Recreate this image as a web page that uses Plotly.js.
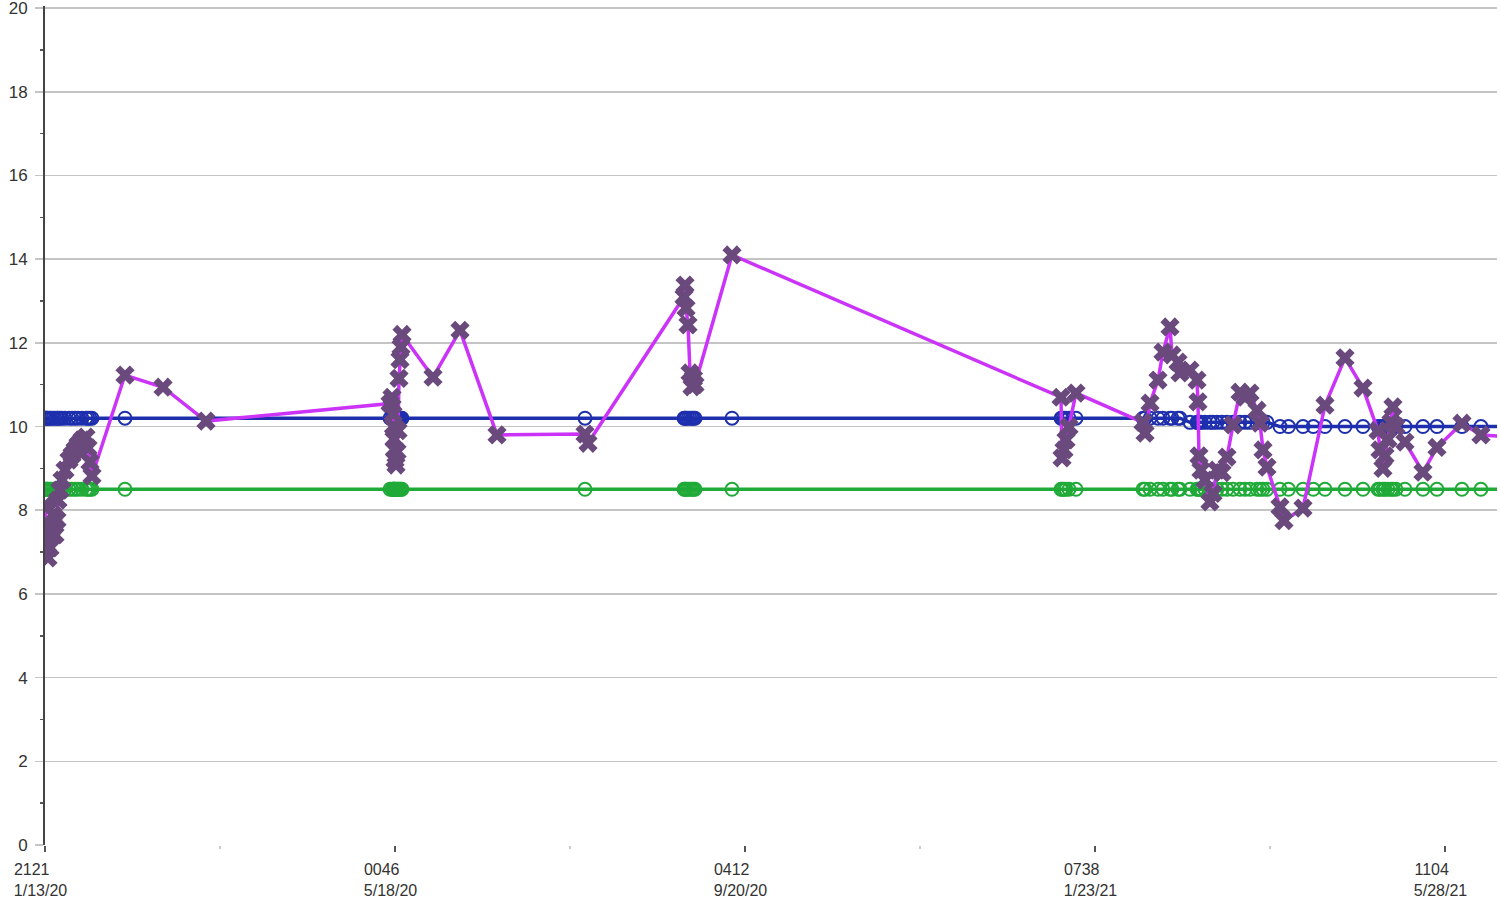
<!DOCTYPE html>
<html>
<head>
<meta charset="utf-8">
<script src="https://cdn.plot.ly/plotly-3.0.1.min.js"></script>
<style>
html,body{margin:0;padding:0;background:#fff;}
#chart{width:1500px;height:908px;}
</style>
</head>
<body>
<div id="chart"></div>
<script>
// ---- Data ----
const resultDates = [
"2020-01-13 21:21","2020-01-14 05:56","2020-01-14 14:31","2020-01-14 23:05","2020-01-15 16:15",
"2020-01-16 00:50","2020-01-16 17:59","2020-01-17 11:09","2020-01-18 04:18","2020-01-18 12:53",
"2020-01-19 06:02","2020-01-19 23:12","2020-01-21 00:56","2020-01-22 11:15","2020-01-23 13:00",
"2020-01-24 14:44","2020-01-25 16:28","2020-01-27 02:47","2020-01-28 13:06","2020-01-29 06:16",
"2020-01-29 23:25","2020-01-30 16:35",
"2020-02-11 11:45","2020-02-25 02:00","2020-03-11 10:50",
"2020-05-16 06:00","2020-05-16 23:00","2020-05-17 07:40","2020-05-17 12:00","2020-05-17 16:00",
"2020-05-17 20:00","2020-05-18 00:46","2020-05-18 09:20","2020-05-18 18:00","2020-05-19 02:40",
"2020-05-19 11:00","2020-05-19 19:40","2020-05-20 04:20","2020-05-20 13:00",
"2020-05-31 14:53","2020-06-10 06:43","2020-06-23 12:00",
"2020-07-24 23:15","2020-07-26 01:00",
"2020-08-29 08:50","2020-08-29 17:30","2020-08-30 02:10","2020-08-30 19:10","2020-08-31 12:30",
"2020-09-01 05:30","2020-09-01 18:00","2020-09-02 07:12","2020-09-15 12:40",
"2021-01-11 03:50","2021-01-11 12:30","2021-01-12 05:30","2021-01-12 22:50","2021-01-14 00:30",
"2021-01-16 12:30",
"2021-02-09 11:30","2021-02-10 04:50","2021-02-12 00:00","2021-02-14 20:10","2021-02-16 15:00",
"2021-02-19 03:10","2021-02-19 20:20","2021-02-21 23:50","2021-02-22 16:50","2021-02-26 06:40",
"2021-02-28 18:40","2021-03-01 03:10","2021-03-01 11:50","2021-03-02 04:50","2021-03-03 15:10",
"2021-03-05 10:00","2021-03-06 12:00","2021-03-07 22:20","2021-03-09 17:20","2021-03-11 12:15",
"2021-03-13 15:50","2021-03-16 03:50","2021-03-17 22:50","2021-03-19 17:45","2021-03-22 05:45",
"2021-03-23 07:30","2021-03-24 09:10","2021-03-25 19:30","2021-03-30 11:00","2021-03-31 21:20",
"2021-04-07 16:20","2021-04-15 13:10","2021-04-22 16:50","2021-04-29 03:10",
"2021-05-04 12:00","2021-05-05 04:50","2021-05-06 06:30","2021-05-06 23:50","2021-05-08 01:30",
"2021-05-09 03:10","2021-05-09 20:20","2021-05-10 22:00","2021-05-14 03:20","2021-05-20 13:40",
"2021-05-25 13:50","2021-06-03 12:30","2021-06-10 07:20","2021-06-20 16:20"
];
const resultValues = [
8.12,7.65,7.17,6.86,7.1,
7.53,7.89,7.41,7.77,8.24,
8.48,8.72,8.96,9.2,9.32,
9.44,9.56,9.68,9.75,9.49,
9.15,8.82,
11.23,10.94,10.13,
10.55,10.7,10.3,10.0,9.7,
9.45,9.2,9.08,9.4,9.9,
11.15,11.6,11.9,12.2,
11.18,12.3,9.8,
9.82,9.6,
13.1,13.38,12.83,12.43,11.28,
10.95,11.15,11.0,14.1,
10.7,9.25,9.44,9.68,9.99,
10.8,
10.1,9.84,10.56,11.11,11.78,
12.38,11.71,11.54,11.28,11.35,
11.11,10.59,9.3,8.96,8.72,
8.2,8.4,8.96,8.9,9.27,
10.04,10.82,10.7,10.8,10.39,
10.08,9.44,9.03,8.08,7.75,
8.05,10.51,11.64,10.92,
9.9,9.44,9.0,9.3,9.7,
10.1,10.47,10.0,9.63,8.91,
9.5,10.08,9.8,9.75
];

// reference-range points (times at which limits were reported)
const rangeDates = [
"2020-01-13 21:21","2020-01-14 05:56","2020-01-14 14:31","2020-01-14 23:05","2020-01-15 16:15",
"2020-01-16 00:50","2020-01-16 17:59","2020-01-17 11:09","2020-01-18 04:18","2020-01-18 12:53",
"2020-01-19 06:02","2020-01-19 23:12","2020-01-21 00:56","2020-01-22 11:15","2020-01-23 13:00",
"2020-01-24 14:44","2020-01-25 16:28","2020-01-27 02:47","2020-01-28 13:06","2020-01-29 06:16",
"2020-01-29 23:25","2020-01-30 16:35",
"2020-02-11 11:45",
"2020-05-16 06:00","2020-05-16 23:00","2020-05-17 07:40","2020-05-17 12:00","2020-05-17 16:00",
"2020-05-17 20:00","2020-05-18 00:46","2020-05-18 09:20","2020-05-18 18:00","2020-05-19 02:40",
"2020-05-19 11:00","2020-05-19 19:40","2020-05-20 04:20","2020-05-20 13:00",
"2020-07-24 23:15",
"2020-08-29 08:50","2020-08-29 17:30","2020-08-30 02:10","2020-08-30 19:10","2020-08-31 12:30",
"2020-09-01 05:30","2020-09-01 18:00","2020-09-02 07:12","2020-09-15 12:40",
"2021-01-11 03:50","2021-01-11 12:30","2021-01-12 05:30","2021-01-12 22:50","2021-01-14 00:30",
"2021-01-16 12:30",
"2021-02-09 11:30","2021-02-10 04:50","2021-02-12 00:00","2021-02-14 20:10","2021-02-16 15:00",
"2021-02-19 03:10","2021-02-19 20:20","2021-02-21 23:50","2021-02-22 16:50","2021-02-26 06:40",
"2021-02-28 18:40","2021-03-01 03:10","2021-03-01 11:50","2021-03-02 04:50","2021-03-03 15:10",
"2021-03-05 10:00","2021-03-06 12:00","2021-03-07 22:20","2021-03-09 17:20","2021-03-11 12:15",
"2021-03-13 15:50","2021-03-16 03:50","2021-03-17 22:50","2021-03-19 17:45","2021-03-22 05:45",
"2021-03-23 07:30","2021-03-24 09:10","2021-03-25 19:30","2021-03-30 11:00","2021-04-02 12:00",
"2021-04-07 16:20","2021-04-11 09:00","2021-04-15 13:10","2021-04-22 16:50","2021-04-29 03:10",
"2021-05-04 12:00","2021-05-05 04:50","2021-05-06 06:30","2021-05-06 23:50","2021-05-08 01:30",
"2021-05-09 03:10","2021-05-09 20:20","2021-05-10 22:00","2021-05-14 03:20","2021-05-20 13:40",
"2021-05-25 13:50","2021-06-03 12:30","2021-06-10 07:20","2021-06-20 16:20"
];
const upperLimit = [
10.2,10.2,10.2,10.2,10.2,10.2,10.2,10.2,10.2,10.2,
10.2,10.2,10.2,10.2,10.2,10.2,10.2,10.2,10.2,10.2,
10.2,10.2,
10.2,
10.2,10.2,10.2,10.2,10.2,10.2,10.2,10.2,10.2,10.2,
10.2,10.2,10.2,10.2,
10.2,
10.2,10.2,10.2,10.2,10.2,10.2,10.2,10.2,10.2,
10.2,10.2,10.2,10.2,10.2,10.2,
10.2,10.2,10.2,10.2,10.2,
10.2,10.2,10.2,10.2,10.1,
10.1,10.1,10.1,10.1,10.1,
10.1,10.1,10.1,10.1,10.1,
10.1,10.1,10.1,10.1,10.1,
10.1,10.1,10.1,10.0,10.0,
10.0,10.0,10.0,10.0,10.0,
10.0,10.0,10.0,10.0,10.0,
10.0,10.0,10.0,10.0,10.0,
10.0,10.0,10.0,10.0
];
const lowerLimit = rangeDates.map(() => 8.5);

const tickDates = ["2020-01-13 21:21","2020-05-18 00:46","2020-09-20 04:12","2021-01-23 07:38","2021-05-28 11:04"];
const tickTimes = ["2121","0046","0412","0738","1104"];
const tickDays  = ["1/13/20","5/18/20","9/20/20","1/23/21","5/28/21"];
const minorTickDates = ["2020-03-16 11:03","2020-07-19 14:29","2020-11-21 17:55","2021-03-26 21:21"];

// ---- Chart ----
// the two label lines are left-aligned with each other (padding with no-break spaces)
const nb = n => '\u00a0'.repeat(n);
const tickLabels = tickTimes.map((t, i) => t + nb(6) + '<br>' + tickDays[i] + nb(2));

const traces = [
  {
    x: rangeDates, y: lowerLimit, type: 'scatter', mode: 'lines+markers',
    line: {color: '#20aa38', width: 3.5},
    marker: {symbol: 'circle-open', size: 13, color: '#20aa38', line: {width: 2}},
    hoverinfo: 'skip'
  },
  {
    x: rangeDates, y: upperLimit, type: 'scatter', mode: 'lines+markers',
    line: {color: '#1e2fae', width: 3.5},
    marker: {symbol: 'circle-open', size: 13, color: '#1e2fae', line: {width: 2}},
    hoverinfo: 'skip'
  },
  {
    x: resultDates, y: resultValues, type: 'scatter', mode: 'lines+markers',
    line: {color: '#cc33f8', width: 3.5},
    marker: {symbol: 'x', size: 17, color: '#6a4a7c', line: {width: 0}}
  }
];

const layout = {
  width: 1500, height: 908,
  margin: {l: 45, r: 3, t: 6, b: 63},
  paper_bgcolor: '#ffffff', plot_bgcolor: '#ffffff',
  showlegend: false,
  font: {family: 'Liberation Sans, Arial, sans-serif', size: 16, color: '#333333'},
  xaxis: {
    type: 'date',
    range: ['2020-01-13 21:21', '2021-06-16 01:10'],
    tickmode: 'array', tickvals: tickDates, ticktext: tickLabels,
    ticks: 'outside', ticklen: 6, tickcolor: '#555555', tickwidth: 1.5,
    ticklabelstandoff: 4,
    showgrid: false, zeroline: false, showline: false,
    tickfont: {size: 16, color: '#333333'},
    minor: {tickmode: 'array', tickvals: minorTickDates, ticks: 'outside', ticklen: 3, tickcolor: '#cccccc', showgrid: false}
  },
  yaxis: {
    range: [0, 20.05], tickmode: 'linear', dtick: 2, tick0: 0,
    showgrid: true, gridcolor: '#c4c4c4', gridwidth: 1.5,
    zeroline: false,
    showline: true, linecolor: '#444444', linewidth: 2,
    ticks: 'outside', ticklen: 8, tickcolor: '#c4c4c4', tickwidth: 1.5,
    ticklabelstandoff: 4, ticklabeloverflow: 'allow',
    tickfont: {size: 17, color: '#333333'},
    minor: {dtick: 1, ticks: 'outside', ticklen: 3, tickcolor: '#555555', showgrid: false}
  }
};

Plotly.newPlot('chart', traces, layout, {displayModeBar: false, staticPlot: true});
</script>
</body>
</html>
